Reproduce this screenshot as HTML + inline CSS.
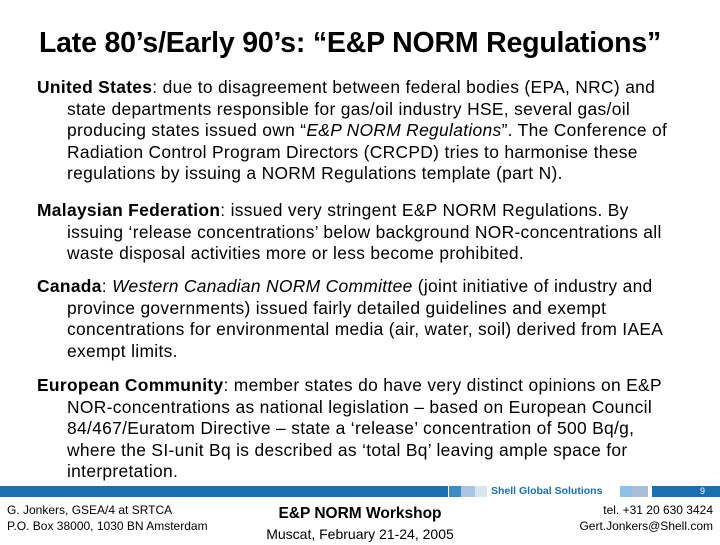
<!DOCTYPE html>
<html><head><meta charset="utf-8"><style>
body{margin:0;width:720px;height:540px;background:#fff;position:relative;overflow:hidden;font-family:"Liberation Sans",Arial,sans-serif;color:#000}
#title{position:absolute;left:-10px;width:720px;top:27px;text-align:center;font-size:28.5px;font-weight:bold;line-height:32px;letter-spacing:-0.2px}
.p{position:absolute;left:37px;width:680px;font-size:17.4px;letter-spacing:0.32px;line-height:21.6px;padding-left:30px;text-indent:-30px;white-space:nowrap}
.bar{position:absolute;top:486px;height:11px}
.f{position:absolute;font-size:12px;line-height:16px}
</style></head><body>
<div id="title">Late 80’s/Early 90’s: “E&amp;P NORM Regulations”</div>
<div class="p" style="top:77px"><b>United States</b>: due to disagreement between federal bodies (EPA, NRC) and<br>state departments responsible for gas/oil industry HSE, several gas/oil<br>producing states issued own “<i>E&amp;P NORM Regulations</i>”. The Conference of<br>Radiation Control Program Directors (CRCPD) tries to harmonise these<br>regulations by issuing a NORM Regulations template (part N).</div>
<div class="p" style="top:200px"><b>Malaysian Federation</b>: issued very stringent E&amp;P NORM Regulations. By<br>issuing ‘release concentrations’ below background NOR-concentrations all<br>waste disposal activities more or less become prohibited.</div>
<div class="p" style="top:276px"><b>Canada</b>: <i>Western Canadian NORM Committee</i> (joint initiative of industry and<br>province governments) issued fairly detailed guidelines and exempt<br>concentrations for environmental media (air, water, soil) derived from IAEA<br>exempt limits.</div>
<div class="p" style="top:375px"><b>European Community</b>: member states do have very distinct opinions on E&amp;P<br>NOR-concentrations as national legislation – based on European Council<br>84/467/Euratom Directive – state a ‘release’ concentration of 500 Bq/g,<br>where the SI-unit Bq is described as ‘total Bq’ leaving ample space for<br>interpretation.</div>
<div>
<div class="bar" style="left:0;width:448px;background:#1a6fb0"></div>
<div class="bar" style="left:449px;width:12px;background:#3d8cc8"></div>
<div class="bar" style="left:461px;width:14px;background:#a9c6e2"></div>
<div class="bar" style="left:475px;width:12px;background:#d8e6f2"></div>
<div class="f" style="left:491px;top:485px;font-size:10.5px;font-weight:bold;color:#1a6fb0;line-height:13px">Shell Global Solutions</div>
<div class="bar" style="left:620px;width:12px;background:#8fc0e6"></div>
<div class="bar" style="left:632px;width:16px;background:#a9bfd8"></div>
<div class="bar" style="left:648px;width:4px;background:#fff"></div>
<div class="bar" style="left:652px;width:68px;background:#1a6fb0"></div>
<div class="f" style="left:700px;top:485px;font-size:9px;color:#fff;line-height:12px">9</div>
</div>
<div class="f" style="left:7px;top:502px">G. Jonkers, GSEA/4 at SRTCA<br>P.O. Box 38000, 1030 BN Amsterdam</div>
<div class="f" style="left:235px;width:250px;top:504px;text-align:center;font-size:15.5px;line-height:20px"><b>E&amp;P NORM Workshop</b><br><span style="font-size:14px">Muscat, February 21-24, 2005</span></div>
<div class="f" style="right:7px;top:502px;text-align:right">tel. +31 20 630 3424<br>Gert.Jonkers@Shell.com</div>
</body></html>
